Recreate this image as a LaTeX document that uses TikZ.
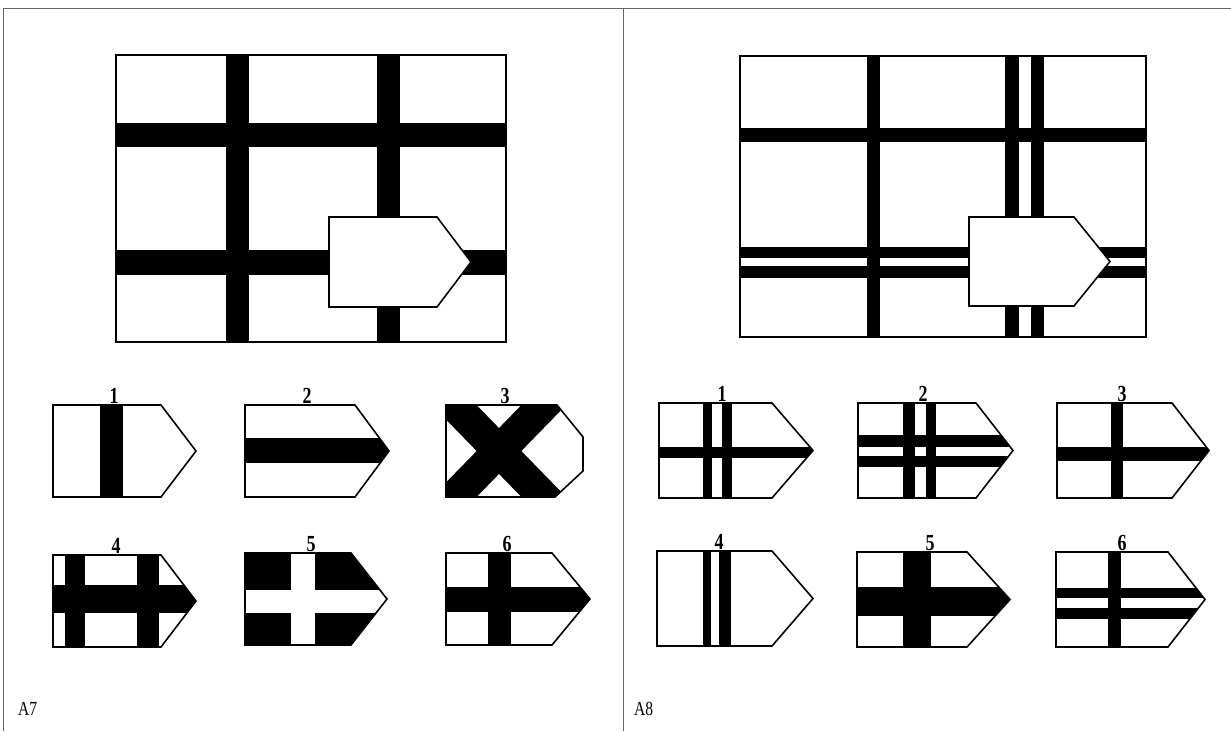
\documentclass[tikz,border=0pt]{standalone}
\usepackage{fontspec}
\setmainfont{Liberation Serif}
\newfontfamily\narrowfont[FakeStretch=0.78]{Liberation Serif}
\usetikzlibrary{positioning}

% pentagon tag: corner, tip, height (local coordinates)
\newcommand{\tagpath}[3]{(0,0) -- (#1,0) -- (#2,{#3/2}) -- (#1,#3) -- (0,#3) -- cycle}

\begin{document}
\begin{tikzpicture}[x=1pt,y=-1pt,
    frame/.style={draw=black!60,line width=0.8pt},
    edge/.style={draw=black,line width=1.6pt,line join=miter},
    tagfill/.style={fill=white,draw=black,line width=1.6pt},
    num/.style={font=\narrowfont\bfseries\fontsize{23}{23}\selectfont,inner sep=0pt,anchor=south},
    lbl/.style={font=\narrowfont\fontsize{20}{20}\selectfont,inner sep=0pt,anchor=base west}]
  \useasboundingbox (0,0) rectangle (1231,731);
  \fill[white] (0,0) rectangle (1231,731);

  % frame
  \coordinate (tl) at (3,8);
  \coordinate (tr) at (1231,8);
  \coordinate (mid) at (623,8);
  \draw[frame] (tl) -- (tr);
  \draw[frame] (tl) -- (3,731);
  \draw[frame] (mid) -- (623,731);
  \node[lbl] (a7) at (18,715) {A7};
  \node[lbl] (a8) at (634,715) {A8};

  % ---------- A7 ----------
  \fill (226,55) rectangle (249,342);
  \fill (377,55) rectangle (400,342);
  \fill (116,123) rectangle (506,147);
  \fill (116,250) rectangle (506,275);
  \draw[edge] (116,55) rectangle (506,342);
  \begin{scope}[shift={(329,217)}]
    \draw[tagfill] \tagpath{108}{142}{90};
  \end{scope}

  % option 1
  \begin{scope}[shift={(53,405)}]
    \begin{scope}
      \clip \tagpath{108}{143}{92};
      \fill (47,0) rectangle (70,92);
    \end{scope}
    \draw[edge] \tagpath{108}{143}{92};
    \node[num] (a7n1) at (61,-1) {1};
  \end{scope}
  % option 2
  \begin{scope}[shift={(245,405)}]
    \begin{scope}
      \clip \tagpath{110}{144}{92};
      \fill (0,33) rectangle (150,58);
    \end{scope}
    \draw[edge] \tagpath{110}{144}{92};
    \node[num] (a7n2) at (62,-1) {2};
  \end{scope}
  % option 3 (blunt tip)
  \begin{scope}[shift={(446,405)}]
    \begin{scope}
      \clip (0,0) -- (111,0) -- (137,32) -- (137,66) -- (109,92) -- (0,92) -- cycle;
      \draw[line width=32pt] (-22,-31) -- (128,123) (-22,123) -- (128,-31);
    \end{scope}
    \draw[edge] (0,0) -- (111,0) -- (137,32) -- (137,66) -- (109,92) -- (0,92) -- cycle;
    \node[num] (a7n3) at (59,-1) {3};
  \end{scope}
  % option 4
  \begin{scope}[shift={(53,555)}]
    \begin{scope}
      \clip \tagpath{108}{143}{92};
      \fill (12,0) rectangle (32,92);
      \fill (84,0) rectangle (106,92);
      \fill (0,30) rectangle (150,58);
    \end{scope}
    \draw[edge] \tagpath{108}{143}{92};
    \node[num] (a7n4) at (63,-1) {4};
  \end{scope}
  % option 5
  \begin{scope}[shift={(245,553)}]
    \begin{scope}
      \clip \tagpath{106}{142}{92};
      \fill (0,0) rectangle (150,92);
      \fill[white] (46,0) rectangle (70,92);
      \fill[white] (0,37) rectangle (150,60);
    \end{scope}
    \draw[edge] \tagpath{106}{142}{92};
    \node[num] (a7n5) at (66,-1) {5};
  \end{scope}
  % option 6
  \begin{scope}[shift={(446,553)}]
    \begin{scope}
      \clip \tagpath{106}{144}{92};
      \fill (42,0) rectangle (65,92);
      \fill (0,34) rectangle (150,59);
    \end{scope}
    \draw[edge] \tagpath{106}{144}{92};
    \node[num] (a7n6) at (61,-1) {6};
  \end{scope}

  % ---------- A8 ----------
  \fill (867,56) rectangle (880,337);
  \fill (1005,56) rectangle (1019,337);
  \fill (1031,56) rectangle (1044,337);
  \fill (740,128) rectangle (1146,142);
  \fill (740,247) rectangle (1146,258);
  \fill (740,266) rectangle (1146,278);
  \draw[edge] (740,56) rectangle (1146,337);
  \begin{scope}[shift={(969,217)}]
    \draw[tagfill] \tagpath{105}{141}{89};
  \end{scope}

  % option 1
  \begin{scope}[shift={(659,403)}]
    \begin{scope}
      \clip \tagpath{113}{154}{95};
      \fill (44,0) rectangle (53,95);
      \fill (63,0) rectangle (73,95);
      \fill (0,44) rectangle (160,55);
    \end{scope}
    \draw[edge] \tagpath{113}{154}{95};
    \node[num] (a8n1) at (63,-1) {1};
  \end{scope}
  % option 2
  \begin{scope}[shift={(858,403)}]
    \begin{scope}
      \clip \tagpath{118}{155}{95};
      \fill (45,0) rectangle (57,95);
      \fill (68,0) rectangle (78,95);
      \fill (0,32) rectangle (160,44);
      \fill (0,53) rectangle (160,64);
    \end{scope}
    \draw[edge] \tagpath{118}{155}{95};
    \node[num] (a8n2) at (65,-1) {2};
  \end{scope}
  % option 3
  \begin{scope}[shift={(1057,403)}]
    \begin{scope}
      \clip \tagpath{115}{152}{95};
      \fill (54,0) rectangle (66,95);
      \fill (0,44) rectangle (160,58);
    \end{scope}
    \draw[edge] \tagpath{115}{152}{95};
    \node[num] (a8n3) at (65,-1) {3};
  \end{scope}
  % option 4
  \begin{scope}[shift={(657,551)}]
    \begin{scope}
      \clip \tagpath{115}{156}{95};
      \fill (46,0) rectangle (54,95);
      \fill (62,0) rectangle (74,95);
    \end{scope}
    \draw[edge] \tagpath{115}{156}{95};
    \node[num] (a8n4) at (62,-1) {4};
  \end{scope}
  % option 5
  \begin{scope}[shift={(857,552)}]
    \begin{scope}
      \clip \tagpath{110}{153}{95};
      \fill (46,0) rectangle (74,95);
      \fill (0,35) rectangle (160,64);
    \end{scope}
    \draw[edge] \tagpath{110}{153}{95};
    \node[num] (a8n5) at (73,-1) {5};
  \end{scope}
  % option 6
  \begin{scope}[shift={(1056,552)}]
    \begin{scope}
      \clip \tagpath{112}{149}{95};
      \fill (52,0) rectangle (65,95);
      \fill (0,36) rectangle (160,46);
      \fill (0,56) rectangle (160,67);
    \end{scope}
    \draw[edge] \tagpath{112}{149}{95};
    \node[num] (a8n6) at (66,-1) {6};
  \end{scope}
\end{tikzpicture}
\end{document}
